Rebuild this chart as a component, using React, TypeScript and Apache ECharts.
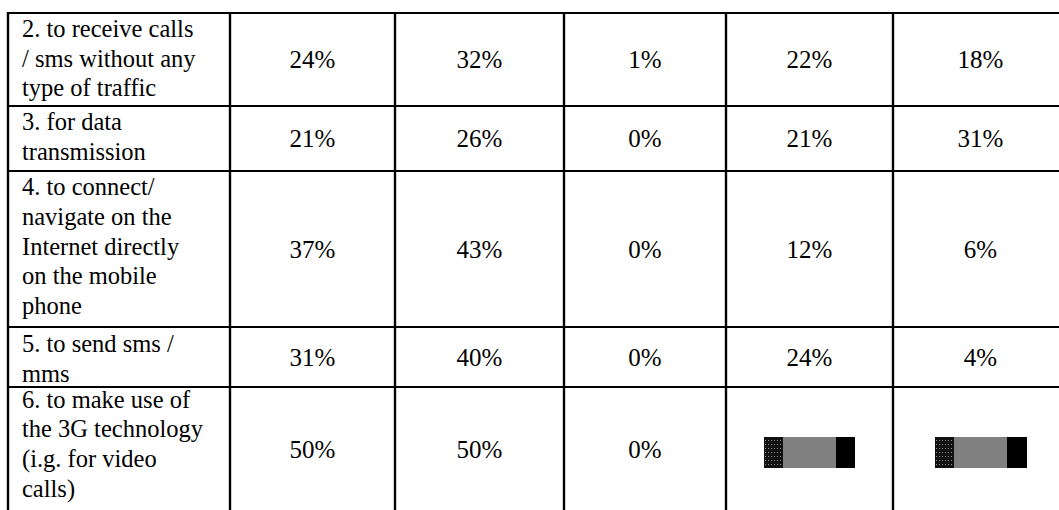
import React, { useEffect, useRef } from "react";
import * as echarts from "echarts";

const rowLabels: string[][] = [
  ["2. to receive calls", "/ sms without any", "type of traffic"],
  ["3. for data", "transmission"],
  ["4. to connect/", "navigate on the", "Internet directly", "on the mobile", "phone"],
  ["5. to send sms /", "mms"],
  ["6. to make use of", "the 3G technology", "(i.g. for video", "calls)"],
];
const colA: (string | null)[] = ["24%", "21%", "37%", "31%", "50%"];
const colB: (string | null)[] = ["32%", "26%", "43%", "40%", "50%"];
const colC: (string | null)[] = ["1%", "0%", "0%", "0%", "0%"];
const colD: (string | null)[] = ["22%", "21%", "12%", "24%", null];
const colE: (string | null)[] = ["18%", "31%", "6%", "4%", null];
// small bar glyphs shown in the last row of columns D and E (dotted, grey, black parts)
const barSegD = [19, 53, 19];
const barSegE = [19, 53, 20];

const valueCols = [colA, colB, colC, colD, colE];

export default function App() {
  const ref = useRef<HTMLDivElement>(null);

  useEffect(() => {
    if (!ref.current) return;
    const chart = echarts.init(ref.current, undefined, { renderer: "svg" });

    const colEdges = [8, 230, 395, 564, 726, 893, 1068];
    const rowEdges = [13, 106, 171, 327, 387, 512];
    const firstBase = [36.7, 130, 195, 352, 407.5];
    const lineGap = 29.7;
    const labelFont = 24.5;
    const valueFont = 25;
    const ff = "Liberation Serif";

    const graphics: any[] = [];
    // borders
    rowEdges.forEach((y) => {
      graphics.push({
        type: "line",
        shape: { x1: colEdges[0] - 1, y1: y, x2: colEdges[colEdges.length - 1], y2: y },
        style: { stroke: "#000", lineWidth: 2.2 },
      });
    });
    colEdges.forEach((x) => {
      graphics.push({
        type: "line",
        shape: { x1: x, y1: rowEdges[0] - 1, x2: x, y2: rowEdges[rowEdges.length - 1] },
        style: { stroke: "#000", lineWidth: 2.4 },
      });
    });
    // row labels
    rowLabels.forEach((lines, r) => {
      lines.forEach((t, i) => {
        const base = firstBase[r] + i * lineGap;
        graphics.push({
          type: "text",
          x: 22,
          y: base - labelFont * 0.3375,
          style: {
            text: t,
            fill: "#000",
            fontFamily: ff,
            fontSize: labelFont,
            align: "left",
            verticalAlign: "middle",
          },
        });
      });
    });
    // values
    valueCols.forEach((col, c) => {
      const cx = (colEdges[c + 1] + colEdges[c + 2]) / 2;
      col.forEach((v, r) => {
        if (v == null) return;
        const cy = (rowEdges[r] + rowEdges[r + 1]) / 2;
        graphics.push({
          type: "text",
          x: cx,
          y: cy,
          style: {
            text: v,
            fill: "#000",
            fontFamily: ff,
            fontSize: valueFont,
            align: "center",
            verticalAlign: "middle",
          },
        });
      });
    });

    const sumD = barSegD.reduce((a, b) => a + b, 0);
    const sumE = barSegE.reduce((a, b) => a + b, 0);
    const segColors = ["#111", "#808080", "#000"];
    const dotted = {
      symbol: "rect",
      symbolSize: 1,
      color: "#8a8a8a",
      dashArrayX: [1, 2],
      dashArrayY: [1, 3],
      rotation: 0,
    };
    const mkSeries = (segs: number[], idx: number, stack: string) =>
      segs.map((v, i) => ({
        type: "bar",
        stack,
        xAxisIndex: idx,
        yAxisIndex: idx,
        barWidth: "100%",
        silent: true,
        data: [v],
        itemStyle: {
          color: segColors[i],
          ...(i === 0 ? { decal: dotted } : {}),
        },
      }));

    chart.setOption({
      animation: false,
      backgroundColor: "#fff",
      textStyle: { fontFamily: ff },
      grid: [
        { left: 764, top: 437, width: 91, height: 31 },
        { left: 935, top: 437, width: 92, height: 31 },
      ],
      xAxis: [
        { type: "value", gridIndex: 0, min: 0, max: sumD, show: false },
        { type: "value", gridIndex: 1, min: 0, max: sumE, show: false },
      ],
      yAxis: [
        { type: "category", gridIndex: 0, data: ["d"], show: false },
        { type: "category", gridIndex: 1, data: ["e"], show: false },
      ],
      series: [...mkSeries(barSegD, 0, "d"), ...mkSeries(barSegE, 1, "e")],
      graphic: graphics,
    });

    return () => chart.dispose();
  }, []);

  return (
    <div
      ref={ref}
      style={{ position: "absolute", left: 0, top: 0, width: 1059, height: 510 }}
    />
  );
}
